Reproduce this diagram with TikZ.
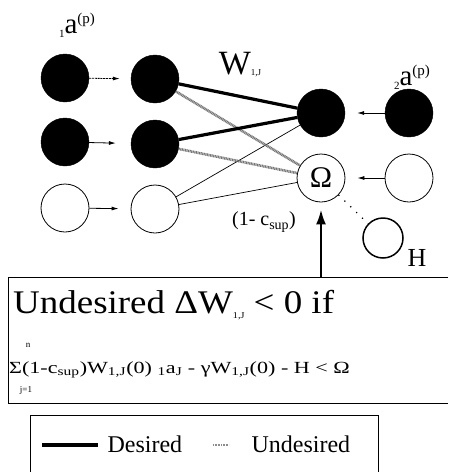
\documentclass[tikz,border=0pt]{standalone}
\usepackage{fontspec}
\setmainfont{Liberation Serif}
\usetikzlibrary{arrows.meta}
\newcommand{\fsz}[1]{\fontsize{#1}{#1}\selectfont}
\begin{document}
\begin{tikzpicture}[x=1pt,y=-1pt,
  full/.style={circle,fill=black,draw=black,minimum size=48pt,inner sep=0pt},
  empty/.style={circle,draw=black,line width=0.8pt,minimum size=48pt,inner sep=0pt},
  feed/.style={-{Latex[length=7pt,width=4pt]},line width=0.8pt},
  desired/.style={line width=3.2pt},
  undesired/.style={line width=2.6pt,black!55,dash pattern=on 1pt off 0.6pt},
  thinline/.style={line width=0.7pt},
  frame/.style={line width=1pt},
]
\useasboundingbox (0,0) rectangle (448,472);
% labels
\node (la1) at (77,25) {\fsz{11}\raisebox{-4pt}{1}\fsz{29}a\fsz{15}\raisebox{10pt}{(p)}};
\node (lw) at (240,65) {\fsz{34}W\fsz{9}\raisebox{-1pt}{1,J}};
\node (la2) at (412,77) {\fsz{11}\raisebox{-4pt}{2}\fsz{29}a\fsz{15}\raisebox{10pt}{(p)}};
% nodes
\node[full] (i1) at (65,78) {};
\node[full] (i2) at (65,142) {};
\node[empty] (i3) at (65,208) {};
\node[full] (h1) at (155,79) {};
\node[full] (h2) at (155,144) {};
\node[empty] (h3) at (155,209) {};
\node[full] (t) at (321,113) {};
\node[empty] (om) at (321,178) {\fsz{30}Ω};
\node[full] (r1) at (409,113) {};
\node[empty] (r2) at (409,178) {};
\node[circle,draw,line width=1.5pt,minimum size=40pt,inner sep=0pt] (hc) at (383,238) {};
\node (hl) at (417,258) {\fsz{26}H};
\node (csup) at (264,222) {\fsz{20}(1- c\textsubscript{sup})};
% feed arrows
\draw[feed,dash pattern=on 2pt off 0.8pt] (i1) -- (h1) [shorten >=11pt];
\draw[feed,shorten >=15pt] (i2) -- (h2);
\draw[feed,shorten >=12pt] (i3) -- (h3);
\draw[feed,shorten >=12pt] (r1) -- (t);
\draw[feed,shorten >=12pt] (r2) -- (om);
% weights
\draw[thinline] (h3) -- (t);
\draw[thinline] (h3) -- (om);
\draw[undesired] (h1) -- (om);
\draw[undesired] (h2) -- (om);
\draw[desired] (h1) -- (t);
\draw[desired] (h2) -- (t);
\draw[line width=1.2pt,dash pattern=on 1.2pt off 7pt] (om) -- (hc);
% box
\coordinate (bt) at (321,277);
\draw[frame] (448,277) -- (8,277) -- (8,403) -- (448,403);
\draw[line width=2.5pt,-{Latex[length=15pt,width=10pt]},shorten >=7pt] (bt) -- (om);
\node[anchor=base west,inner sep=0pt] (hd) at (13,313) {\scalebox{1.12}[1]{\fsz{33}Undesired ΔW\fsz{9}\raisebox{-5pt}{1,J}\fsz{33} < 0 if}};
\node[anchor=base west,inner sep=0pt] (fm) at (9,373) {\scalebox{1.3}[1]{\fsz{17}Σ(1-c\textsubscript{sup})W\textsubscript{1,J}(0) \textsubscript{1}a\textsubscript{J} - γW\textsubscript{1,J}(0) - H < Ω}};
\node (fn) at (28,345) {\fsz{9}n};
\node (fj) at (26,390) {\fsz{9}j=1};
% legend
\draw[frame] (30,472) -- (30,415) -- (378,415) -- (378,472);
\coordinate (d1) at (42,445);
\coordinate (d2) at (98,445);
\draw[desired] (d1) -- (d2);
\node[anchor=base west] (ld) at (104,452) {\fsz{24}Desired};
\coordinate (u1) at (213,445);
\coordinate (u2) at (229,445);
\draw[line width=1.4pt,black!45,dash pattern=on 1pt off 0.6pt] (u1) -- (u2);
\node[anchor=base west] (lu) at (248,452) {\fsz{24}Undesired};
\end{tikzpicture}
\end{document}
